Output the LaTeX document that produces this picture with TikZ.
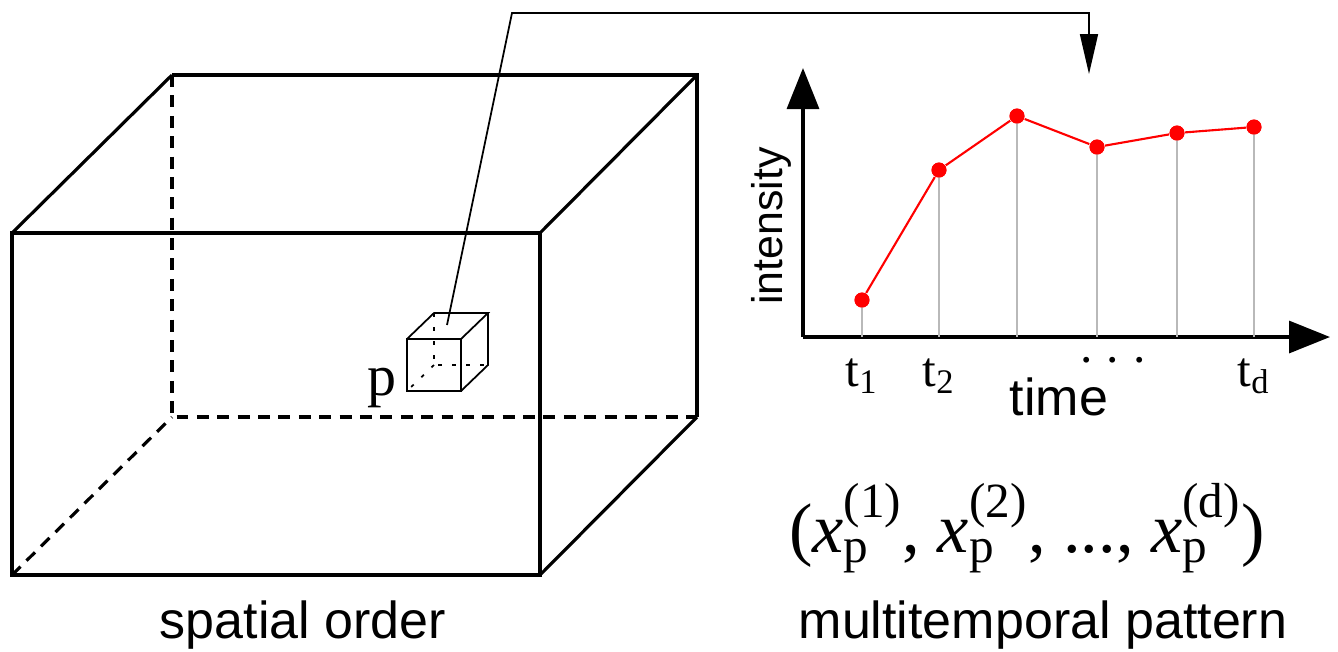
\documentclass[tikz,border=0pt]{standalone}
\usepackage{amsmath}
\usepackage{fontspec}
\setmainfont{Liberation Serif}
\setsansfont{Liberation Sans}
\usetikzlibrary{arrows.meta}
\definecolor{pointred}{RGB}{255, 0, 0}
\definecolor{stemgray}{RGB}{185, 185, 185}
\newcommand{\xp}[1]{\textit{x}$^{\text{(#1)}}_{\text{p}}$}

\begin{document}
\begin{tikzpicture}[
  edge/.style={line width=0.9pt},
  hidden/.style={line width=0.9pt, dash pattern=on 3.4pt off 2.4pt},
  voxel/.style={line width=0.5pt},
  voxelhidden/.style={line width=0.5pt, dash pattern=on 1pt off 3pt},
  axis/.style={line width=0.95pt, -{Triangle[length=0.41cm, width=0.32cm]}},
  dot/.style={circle, fill=pointred, inner sep=0pt, minimum size=0.15cm},
  lbl/.style={font=\sffamily\fontsize{14.8pt}{16pt}\selectfont},
  tick/.style={font=\fontsize{14pt}{16pt}\selectfont, anchor=base}
]
\useasboundingbox (0,0) rectangle (13.38,-6.51);

% ===== SPATIAL ORDER: image volume =====
% front face
\draw[edge] (0.12,-2.33) rectangle (5.40,-5.75);
% back face, visible edges
\draw[edge] (1.72,-0.75) -- (6.97,-0.75) -- (6.97,-4.17);
\draw[hidden] (1.72,-0.75) -- (1.72,-4.17) -- (6.97,-4.17);
% depth edges
\draw[edge] (0.12,-2.33) -- (1.72,-0.75);
\draw[edge] (5.40,-2.33) -- (6.97,-0.75);
\draw[edge] (5.40,-5.75) -- (6.97,-4.17);
\draw[hidden] (0.12,-5.75) -- (1.72,-4.17);

% pixel p as a small cube
\draw[voxel] (4.07,-3.39) rectangle (4.61,-3.91);
\draw[voxel] (4.07,-3.39) -- (4.34,-3.13) -- (4.88,-3.13) -- (4.61,-3.39);
\draw[voxel] (4.88,-3.13) -- (4.88,-3.65) -- (4.61,-3.91);
\draw[voxelhidden] (4.34,-3.13) -- (4.34,-3.65) -- (4.88,-3.65);
\draw[voxelhidden] (4.34,-3.65) -- (4.07,-3.91);
\node[font=\fontsize{16.5pt}{18pt}\selectfont, anchor=base] (plabel) at (3.82,-3.95) {p};

\node[lbl, anchor=base] (spatial) at (3.03,-6.38) {spatial order};

% ===== MULTITEMPORAL PATTERN: intensity over time =====
\coordinate (o) at (8.03,-3.37);
\draw[axis] (o) -- (8.03,-0.68) coordinate (ytip);
\draw[axis] (o) -- (13.30,-3.37) coordinate (xtip);

\node[font=\sffamily\fontsize{12.2pt}{14pt}\selectfont, rotate=90] (ylabel)
  at (7.71,-2.26) {intensity};
\node[lbl, anchor=base] (xlabel) at (10.59,-4.15) {time};

% samples t_1 ... t_d
\foreach \i/\x/\y in {1/8.62/3.00, 2/9.39/1.70, 3/10.17/1.16,
                      4/10.97/1.47, 5/11.77/1.33, 6/12.54/1.27} {
  \node[dot] (d\i) at (\x,-\y) {};
  \draw[stemgray, line width=0.6pt] (d\i |- o) -- (d\i.center);
}
\draw[pointred, line width=0.6pt]
  (d1) -- (d2) -- (d3) -- (d4) -- (d5) -- (d6);
\foreach \i in {1,...,6} \node[dot] at (d\i) {};

\node[tick] (t1) at (8.62,-3.86) {t\textsubscript{1}};
\node[tick] (t2) at (9.39,-3.86) {t\textsubscript{2}};
\node[tick] (td) at (12.54,-3.86) {t\textsubscript{d}};
\node[font=\fontsize{14pt}{16pt}\selectfont, inner sep=0pt, anchor=base]
  (tdots) at (11.13,-3.76) {·\hspace{0.1cm}·\hspace{0.1cm}·};

% feature vector of p
\node[font=\fontsize{20pt}{22pt}\selectfont] (vec) at (10.27,-5.28)
  {(\xp{1}, \xp{2}, ..., \xp{d})};

\node[lbl, anchor=base] (multi) at (10.43,-6.38) {multitemporal pattern};

% ===== CONNECTOR: pixel -> its time series =====
\coordinate (ptop) at (4.47,-3.25);
\coordinate (pend) at (10.89,-0.74);
\draw[line width=0.5pt, -{Triangle[length=0.40cm, width=0.18cm]}]
  (ptop) -- (5.12,-0.13) -| (pend);

\end{tikzpicture}
\end{document}
